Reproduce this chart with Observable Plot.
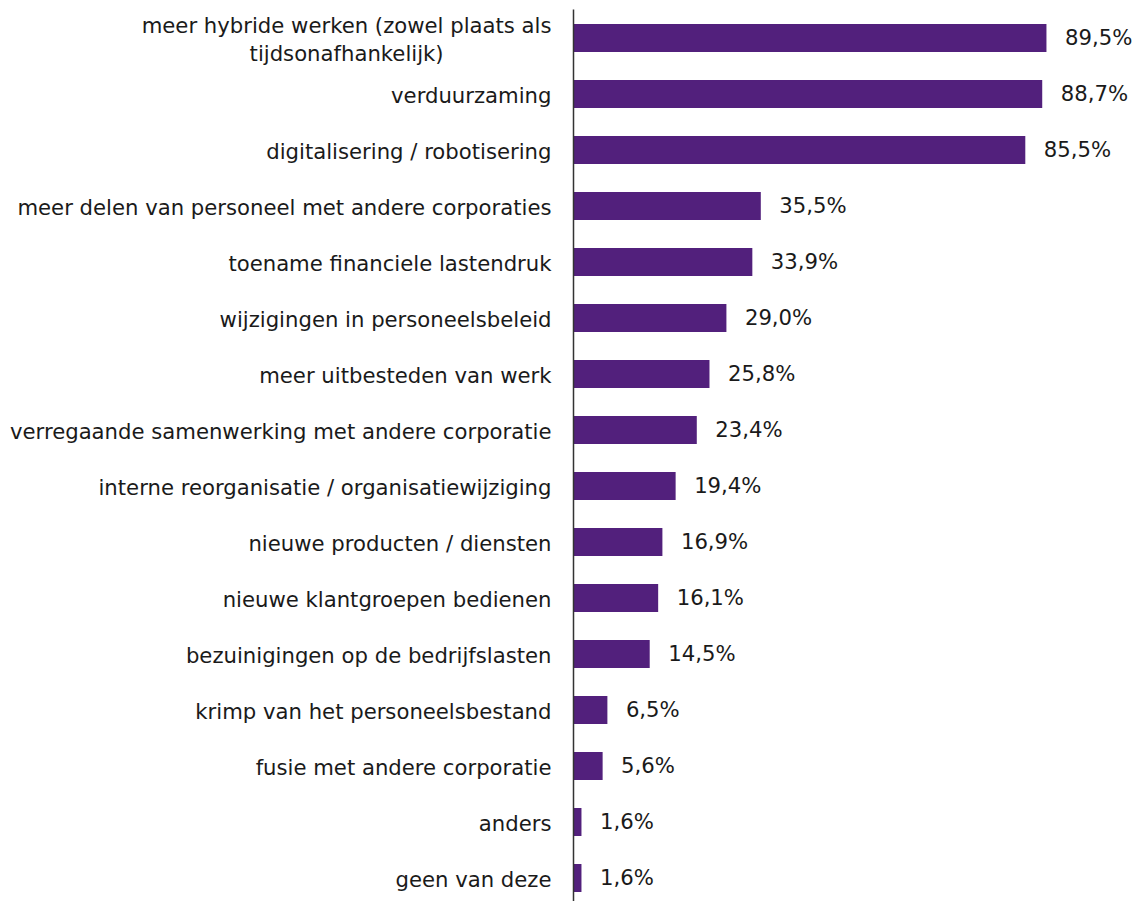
<!DOCTYPE html>
<html>
<head>
<meta charset="utf-8">
<script src="https://cdn.jsdelivr.net/npm/d3@7"></script>
<script src="https://cdn.jsdelivr.net/npm/@observablehq/plot@0.6"></script>
<style>
  html, body { margin: 0; padding: 0; background: #ffffff; }
  #chart svg { display: block; }
</style>
</head>
<body>
<div id="chart"></div>
<script>
const categories = [
  "meer hybride werken (zowel plaats als\ntijdsonafhankelijk)",
  "verduurzaming",
  "digitalisering / robotisering",
  "meer delen van personeel met andere corporaties",
  "toename financiele lastendruk",
  "wijzigingen in personeelsbeleid",
  "meer uitbesteden van werk",
  "verregaande samenwerking met andere corporatie",
  "interne reorganisatie / organisatiewijziging",
  "nieuwe producten / diensten",
  "nieuwe klantgroepen bedienen",
  "bezuinigingen op de bedrijfslasten",
  "krimp van het personeelsbestand",
  "fusie met andere corporatie",
  "anders",
  "geen van deze"
];
const values = [89.5, 88.7, 85.5, 35.5, 33.9, 29.0, 25.8, 23.4, 19.4, 16.9, 16.1, 14.5, 6.5, 5.6, 1.6, 1.6];

const data = categories.map((c, i) => ({category: c, value: values[i]}));
const fmt = v => v.toFixed(1).replace(".", ",") + "%";

const barColor = "#52207c";
const textColor = "#1a1a1a";

const chart = Plot.plot({
  width: 1142,
  height: 901,
  marginLeft: 573,
  marginRight: 40,
  marginTop: 23.5,
  marginBottom: 9,
  x: {domain: [0, 100], axis: null},
  y: {domain: categories, paddingInner: 0.5, paddingOuter: 0, axis: null},
  style: {fontFamily: "'DejaVu Sans', Verdana, sans-serif", fontSize: "21px", background: "#ffffff", color: textColor},
  marks: [
    Plot.barX(data, {x: "value", y: "category", fill: barColor}),
    Plot.ruleX([0], {stroke: "#333333", strokeWidth: 1.5, insetTop: -14, insetBottom: -9}),
    Plot.text(data, {x: "value", y: "category", text: d => fmt(d.value), textAnchor: "start", dx: 18, fill: textColor, fontSize: 21.2}),
    Plot.axisY({tickSize: 0, tickPadding: 22, fontSize: 21.2, lineHeight: 1.32, fill: textColor, label: null})
  ]
});

document.getElementById("chart").appendChild(chart);

// Center the second line of a wrapped label under the first line (as in the reference)
chart.querySelectorAll("text").forEach(t => {
  const spans = t.querySelectorAll("tspan");
  if (spans.length === 2) {
    const w1 = spans[0].getComputedTextLength();
    const x0 = parseFloat(spans[0].getAttribute("x") || "0");
    spans[1].setAttribute("x", x0 - w1 / 2);
    spans[1].setAttribute("text-anchor", "middle");
  }
});
</script>
</body>
</html>
